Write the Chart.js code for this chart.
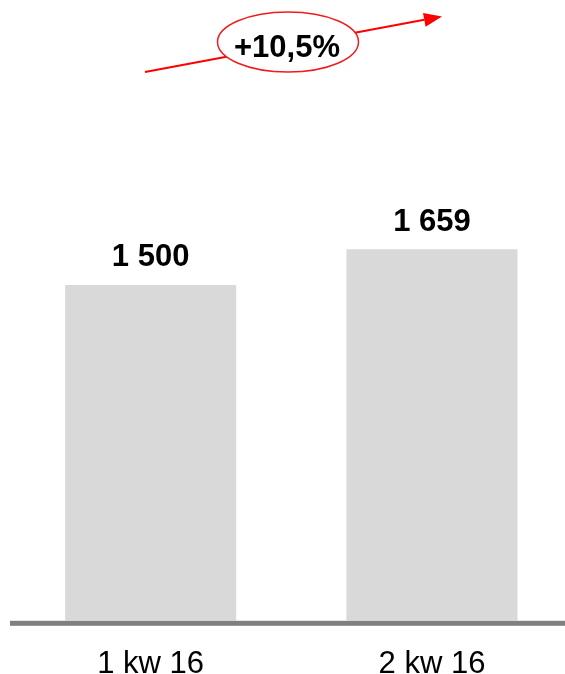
<!DOCTYPE html>
<html>
<head>
<meta charset="utf-8">
<script src="https://cdn.jsdelivr.net/npm/chart.js@4/dist/chart.umd.min.js"></script>
<style>
  html, body { margin: 0; padding: 0; background: #ffffff; overflow: hidden; }
  #wrap { position: relative; width: 575px; height: 709px; }
</style>
</head>
<body>
<div id="wrap"><canvas id="c"></canvas></div>
<script>
const categories = ["1 kw 16", "2 kw 16"];
const values = [1500, 1659];
const valueLabels = ["1 500", "1 659"];
const changeLabel = "+10,5%";

const FONT = "'Liberation Sans', Arial, Helvetica, sans-serif";

const decorPlugin = {
  id: 'decor',
  afterDatasetsDraw(chart) {
    const ctx = chart.ctx;
    const ys = chart.scales.y;
    const area = chart.chartArea;
    const y0 = ys.getPixelForValue(0);
    ctx.save();
    // baseline
    ctx.fillStyle = '#808080';
    ctx.fillRect(area.left, y0, 565 - area.left, 5);
    // value labels
    const meta = chart.getDatasetMeta(0);
    ctx.fillStyle = '#000000';
    ctx.font = "bold 31px " + FONT;
    ctx.textAlign = 'center';
    ctx.textBaseline = 'alphabetic';
    meta.data.forEach((bar, i) => {
      ctx.fillText(valueLabels[i], bar.x, bar.y - 18.5);
    });
    // arrow
    const x1 = 145, y1 = 72, x2 = 442, y2 = 16.5;
    const ang = Math.atan2(y2 - y1, x2 - x1);
    const headLen = 18, headW = 7;
    const bx = x2 - headLen * Math.cos(ang), by = y2 - headLen * Math.sin(ang);
    ctx.strokeStyle = '#ff0000';
    ctx.lineWidth = 2;
    ctx.beginPath();
    ctx.moveTo(x1, y1);
    ctx.lineTo(bx, by);
    ctx.stroke();
    ctx.fillStyle = '#ff0000';
    ctx.beginPath();
    ctx.moveTo(x2, y2);
    ctx.lineTo(bx + headW * Math.sin(ang), by - headW * Math.cos(ang));
    ctx.lineTo(bx - headW * Math.sin(ang), by + headW * Math.cos(ang));
    ctx.closePath();
    ctx.fill();
    // ellipse
    ctx.beginPath();
    ctx.ellipse(288, 42, 70.5, 30, 0, 0, Math.PI * 2);
    ctx.fillStyle = '#ffffff';
    ctx.fill();
    ctx.lineWidth = 1.5;
    ctx.strokeStyle = '#ee1c1c';
    ctx.stroke();
    // change text
    ctx.fillStyle = '#000000';
    ctx.font = "bold 31px " + FONT;
    ctx.textAlign = 'center';
    ctx.fillText(changeLabel, 287, 57);
    ctx.restore();
  }
};

new Chart(document.getElementById('c'), {
  type: 'bar',
  data: {
    labels: categories,
    datasets: [{
      data: values,
      backgroundColor: '#d9d9d9',
      borderWidth: 0,
      barPercentage: 0.608,
      categoryPercentage: 1.0
    }]
  },
  options: {
    responsive: true,
    maintainAspectRatio: false,
    animation: false,
    events: [],
    layout: { padding: { left: 10, right: 2.4, top: 173, bottom: 0 } },
    plugins: { legend: { display: false }, tooltip: { enabled: false } },
    scales: {
      x: {
        grid: { display: false, drawTicks: false },
        border: { display: false },
        ticks: {
          color: '#000000',
          font: { family: FONT, size: 31 },
          padding: 25.5
        }
      },
      y: {
        display: false,
        min: 0,
        max: 2000
      }
    }
  },
  plugins: [decorPlugin]
});
</script>
</body>
</html>
